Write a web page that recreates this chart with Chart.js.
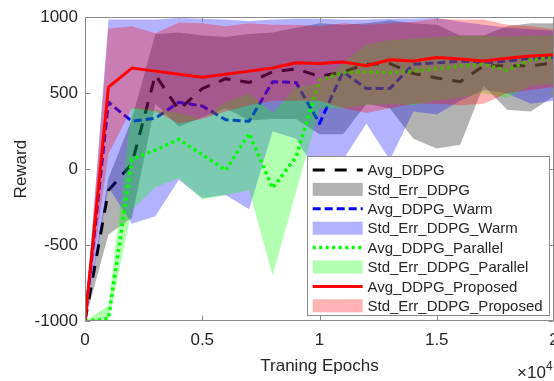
<!DOCTYPE html>
<html>
<head>
<meta charset="utf-8">
<script src="https://cdn.jsdelivr.net/npm/chart.js@4.4.1/dist/chart.umd.min.js"></script>
<style>
  html, body { margin: 0; padding: 0; background: #ffffff; }
  #wrap { position: relative; width: 554px; height: 381px; }
  canvas { display: block; }
</style>
</head>
<body>
<div id="wrap"><canvas id="c" width="554" height="381"></canvas></div>
<script>
// ---- data (x in training epochs) ----
const epochs = [0,1000,2000,3000,4000,5000,6000,7000,8000,9000,10000,11000,12000,13000,14000,15000,16000,17000,18000,19000,20000];

const avgDDPG      = [-1000,-140,35,620,390,530,595,570,640,660,610,640,690,695,630,600,575,680,680,680,700];
const stdDDPGUp    = [-1000,-60,330,890,900,880,870,890,900,930,960,950,960,980,960,950,880,880,940,960,960];
const stdDDPGLo    = [-1000,-430,-320,430,280,340,400,320,330,330,230,230,430,400,200,135,160,550,390,380,480];

const avgWarm      = [-1000,440,315,335,440,415,325,315,575,570,300,640,530,530,690,700,710,700,710,730,735];
const stdWarmUp    = [-1000,985,985,985,995,990,985,975,985,990,990,985,985,990,990,995,970,950,930,920,910];
const stdWarmLo    = [-1000,-120,-360,-310,-70,-190,-170,-265,250,200,-50,60,300,60,380,360,450,520,500,430,450];

const avgParallel  = [-1000,-985,65,125,196,95,-8,235,-125,80,585,635,640,635,645,660,680,690,650,720,735];
const stdParUp     = [-1000,-900,410,390,370,330,440,500,370,540,560,700,820,850,860,870,880,880,870,880,880];
const stdParLo     = [-1000,-1000,-270,-120,-60,-200,-170,-140,-700,-150,400,400,420,430,420,450,470,500,470,550,560];

const avgProposed  = [-1000,540,665,645,625,605,625,645,665,700,695,705,680,720,712,735,725,712,730,745,752];
const stdPropUp    = [-1000,925,940,895,965,960,940,960,950,950,940,960,950,960,970,990,985,985,950,940,920];
const stdPropLo    = [-1000,100,400,380,300,330,380,420,450,450,450,400,370,400,430,430,420,430,500,520,540];

const yTicks = [-1000,-500,0,500,1000];
const xTicks = [0,5000,10000,15000,20000];
const xTickLabels = ['0','0.5','1','1.5','2'];
const legendLabels = ['Avg_DDPG','Std_Err_DDPG','Avg_DDPG_Warm','Std_Err_DDPG_Warm','Avg_DDPG_Parallel','Std_Err_DDPG_Parallel','Avg_DDPG_Proposed','Std_Err_DDPG_Proposed'];

// ---- styles ----
const FONT = '"Liberation Sans", Arial, sans-serif';
const TXT = '#262626';
const AX = '#8a8a8a';
const styles = {
  black: {color:'#000000', width:3, dash:[12,10]},
  blue:  {color:'#0000ff', width:3, dash:[8,4]},
  green: {color:'#00ff00', width:3.5, dash:[3,3.5]},
  red:   {color:'#ff0000', width:3, dash:[]},
};
const fills = {
  gray:  'rgba(0,0,0,0.3)',
  blue:  'rgba(0,0,255,0.3)',
  green: 'rgba(0,255,0,0.3)',
  red:   'rgba(255,0,0,0.3)'
};

function pts(arr){ return arr.map((v,i)=>({x:epochs[i], y:v})); }
function lineDs(label, arr, st, order){
  return {label, data:pts(arr), borderColor:st.color, borderWidth:st.width, borderDash:st.dash,
          pointRadius:0, fill:false, tension:0, order, borderCapStyle:'butt', borderJoinStyle:'round'};
}
function bandUp(label, arr, color, order){
  return {label, data:pts(arr), borderWidth:0, borderColor:'rgba(0,0,0,0)', backgroundColor:color,
          pointRadius:0, fill:'+1', tension:0, order};
}
function bandLo(label, arr, order){
  return {label, data:pts(arr), borderWidth:0, borderColor:'rgba(0,0,0,0)', pointRadius:0, fill:false, tension:0, order};
}

const datasets = [
  lineDs(legendLabels[0], avgDDPG, styles.black, 100),
  bandUp(legendLabels[1], stdDDPGUp, fills.gray, 99), bandLo('lo1', stdDDPGLo, 99),
  lineDs(legendLabels[2], avgWarm, styles.blue, 98),
  bandUp(legendLabels[3], stdWarmUp, fills.blue, 97), bandLo('lo2', stdWarmLo, 97),
  lineDs(legendLabels[4], avgParallel, styles.green, 96),
  bandUp(legendLabels[5], stdParUp, fills.green, 95), bandLo('lo3', stdParLo, 95),
  lineDs(legendLabels[6], avgProposed, styles.red, 94),
  bandUp(legendLabels[7], stdPropUp, fills.red, 93), bandLo('lo4', stdPropLo, 93),
];

const legendItems = [
  {type:'line', st:styles.black}, {type:'box', c:fills.gray},
  {type:'line', st:styles.blue},  {type:'box', c:fills.blue},
  {type:'line', st:styles.green}, {type:'box', c:fills.green},
  {type:'line', st:styles.red},   {type:'box', c:fills.red},
];

const decor = {
  id:'decor',
  afterDatasetsDraw(chart){
    const ctx = chart.ctx, a = chart.chartArea, xs = chart.scales.x, ys = chart.scales.y;
    ctx.save();
    ctx.strokeStyle = AX; ctx.lineWidth = 1;
    const L = Math.round(a.left)+0.5, R = Math.round(a.right)-0.5, T = Math.round(a.top)+0.5, B = Math.round(a.bottom)-0.5;
    ctx.beginPath();
    ctx.moveTo(L,T); ctx.lineTo(R,T); ctx.lineTo(R,B); ctx.lineTo(L,B); ctx.closePath();
    const tl = 5;
    yTicks.forEach(v=>{ const y = Math.round(ys.getPixelForValue(v))+0.5; ctx.moveTo(L,y); ctx.lineTo(L+tl,y); ctx.moveTo(R,y); ctx.lineTo(R-tl,y); });
    xTicks.forEach(v=>{ const x = Math.round(xs.getPixelForValue(v))+0.5; ctx.moveTo(x,B); ctx.lineTo(x,B-tl); ctx.moveTo(x,T); ctx.lineTo(x,T+tl); });
    ctx.stroke();

    // legend
    const lx0 = 307.5, ly0 = 156.5, lx1 = 549.5, ly1 = 315.5;
    ctx.fillStyle = '#ffffff';
    ctx.fillRect(lx0, ly0, lx1-lx0, ly1-ly0);
    ctx.strokeStyle = AX; ctx.lineWidth = 1;
    ctx.strokeRect(lx0, ly0, lx1-lx0, ly1-ly0);
    const rowH = 19.4, y0 = 170, sx0 = 312.7, sx1 = 362.7, tx = 367.5;
    ctx.font = '15px ' + FONT; ctx.textBaseline = 'middle'; ctx.textAlign = 'left';
    legendItems.forEach((it,i)=>{
      const y = y0 + i*rowH;
      if (it.type === 'line'){
        ctx.save();
        ctx.strokeStyle = it.st.color; ctx.lineWidth = it.st.width; ctx.setLineDash(it.st.dash); ctx.lineCap='butt';
        ctx.beginPath(); ctx.moveTo(sx0, y); ctx.lineTo(sx1, y); ctx.stroke();
        ctx.restore();
      } else {
        ctx.fillStyle = it.c; ctx.fillRect(sx0, y-6.5, sx1-sx0, 13);
      }
      ctx.fillStyle = TXT;
      ctx.fillText(legendLabels[i], tx, y+1);
    });

    // x10^4 exponent label
    ctx.fillStyle = TXT; ctx.textBaseline = 'alphabetic';
    ctx.font = '17px ' + FONT;
    ctx.fillText('\u00d710', 517, 378);
    ctx.font = '12px ' + FONT;
    ctx.fillText('4', 546, 370);
    ctx.restore();
  }
};

new Chart(document.getElementById('c'), {
  type:'line',
  data:{ datasets },
  options:{
    responsive:false, animation:false, devicePixelRatio:1,
    layout:{ padding:{left:0,right:0,top:10,bottom:0}, autoPadding:false },
    plugins:{ legend:{display:false}, tooltip:{enabled:false}, filler:{propagate:false} },
    scales:{
      x:{ type:'linear', min:0, max:20000,
          afterFit(s){ s.height = 60; s.paddingLeft = 0; s.paddingRight = 0; },
          afterBuildTicks(s){ s.ticks = xTicks.map(v=>({value:v})); },
          grid:{display:false, drawTicks:false}, border:{display:false},
          ticks:{ autoSkip:false, maxRotation:0, padding:9, color:TXT, font:{family:FONT,size:17},
                  callback:(v)=>{ const i = xTicks.indexOf(v); return i>=0 ? xTickLabels[i] : ''; } },
          title:{ display:true, text:'Traning Epochs', color:TXT, font:{family:FONT,size:17}, padding:{top:0,bottom:4} } },
      y:{ type:'linear', min:-1000, max:1000,
          afterFit(s){ s.width = 85; },
          afterBuildTicks(s){ s.ticks = yTicks.map(v=>({value:v})); },
          grid:{display:false, drawTicks:false}, border:{display:false},
          ticks:{ padding:7, color:TXT, font:{family:FONT,size:17}, callback:(v)=>String(v) },
          title:{ display:true, text:'Reward', color:TXT, font:{family:FONT,size:17}, padding:{top:11,bottom:0} } }
    }
  },
  plugins:[decor]
});
</script>
</body>
</html>
